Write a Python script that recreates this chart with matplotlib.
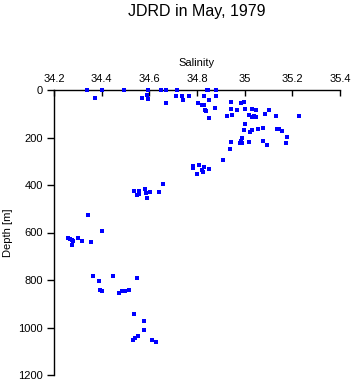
import matplotlib
matplotlib.use('Agg')
import matplotlib.pyplot as plt

plt.rcParams['font.family'] = ['Liberation Sans', 'DejaVu Sans']

# salinity / depth pairs
salinity = [34.337, 34.403, 34.495, 34.596, 34.649, 34.670, 34.715, 34.842, 34.848, 34.881,
            34.372, 34.571, 34.591, 34.596, 34.671, 34.712, 34.736, 34.741, 34.766, 34.805,
            34.819, 34.829, 34.828, 34.852, 34.834, 34.838, 34.878, 34.876, 34.852, 34.927,
            34.944, 34.986, 34.999, 34.944, 34.969, 35.003, 35.032, 35.048, 35.102, 34.948,
            35.017, 35.031, 35.040, 35.046, 35.087, 35.132, 35.228, 35.000, 34.999, 35.024,
            35.031, 35.057, 35.078, 35.137, 35.145, 35.155, 35.178, 35.173, 34.990, 34.944,
            34.980, 34.990, 34.985, 35.019, 35.078, 35.092, 34.940,
            34.908, 34.783, 34.785, 34.810, 34.831, 34.822, 34.824, 34.852, 34.801,
            34.659, 34.537, 34.558, 34.558, 34.547, 34.582, 34.585, 34.604, 34.642, 34.591,
            34.344, 34.403, 34.257, 34.267, 34.277, 34.281, 34.274, 34.302, 34.319, 34.357,
            34.362, 34.448, 34.390, 34.550, 34.393, 34.400, 34.474, 34.484, 34.498, 34.516,
            34.536, 34.579, 34.579, 34.551, 34.540, 34.533, 34.612, 34.629]
depth = [0, 0, 0, 0, 0, 0, 0, 0, 0, 0,
         32, 35, 21, 38, 55, 25, 25, 42, 25, 53,
         63, 63, 25, 42, 84, 88, 25, 75, 117, 111,
         52, 55, 52, 80, 86, 80, 80, 84, 86, 105,
         105, 113, 108, 113, 103, 110, 110, 145, 168, 176,
         170, 166, 162, 165, 165, 173, 197, 224, 200, 218,
         222, 224, 215, 219, 215, 232, 248,
         296, 322, 329, 316, 323, 336, 344, 334, 355,
         395, 427, 424, 437, 441, 417, 434, 430, 430, 456,
         525, 594, 625, 627, 632, 637, 651, 623, 636, 642,
         783, 783, 806, 793, 842, 848, 855, 845, 848, 841,
         943, 974, 1010, 1037, 1046, 1051, 1051, 1063]

xticks = [34.2, 34.4, 34.6, 34.8, 35.0, 35.2, 35.4]
xticklabels = ['34.2', '34.4', '34.6', '34.8', '35', '35.2', '35.4']
yticks = [0, 200, 400, 600, 800, 1000, 1200]

fig = plt.figure(figsize=(3.53, 3.84), dpi=100)
ax = fig.add_axes([54/353, 1-375/384, 286/353, 285/384])

ax.plot(salinity, depth, 's', color='#0000ff', markersize=2.2, markeredgewidth=0,
        clip_on=False, zorder=3)

ax.set_xlim(34.2, 35.4)
ax.set_ylim(1200, 0)
ax.xaxis.tick_top()
ax.xaxis.set_label_position('top')
ax.set_xticks(xticks)
ax.set_xticklabels(xticklabels)
ax.set_yticks(yticks)
ax.tick_params(axis='x', direction='in', length=4, width=1, labelsize=8, pad=4)
ax.tick_params(axis='y', direction='out', length=5, width=1, labelsize=8, pad=3)
ax.set_xlabel('Salinity', fontsize=8, labelpad=6)
ax.set_ylabel('Depth [m]', fontsize=8, labelpad=4)

for s in ['right', 'bottom']:
    ax.spines[s].set_visible(False)
ax.spines['top'].set_linewidth(1)
ax.spines['left'].set_linewidth(1)

fig.suptitle('JDRD in May, 1979', x=197/353, y=1-4/384, va='top', fontsize=11.5)

fig.savefig('out.png', dpi=100)
